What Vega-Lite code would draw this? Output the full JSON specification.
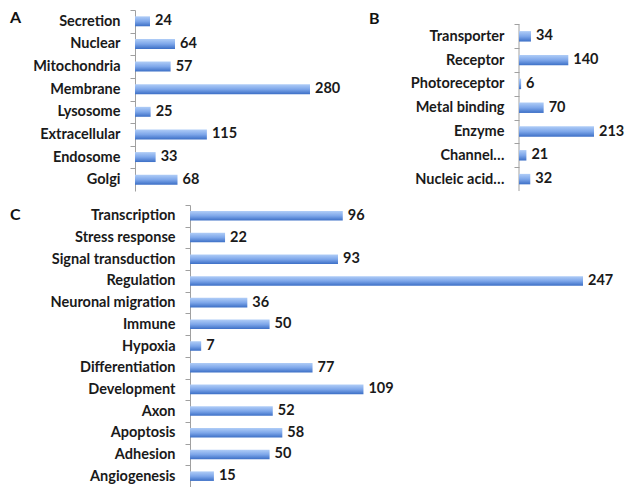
{
  "$schema": "https://vega.github.io/schema/vega-lite/v6.json",
  "padding": {"left": 10, "top": 9, "right": 0, "bottom": 0},
  "background": "white",
  "config": {
    "view": {"stroke": null},
    "font": "Lato",
    "axis": {
      "labelFont": "Lato", "labelFontSize": 14.5, "labelFontWeight": "bold", "labelColor": "#1a1a1a",
      "domain": true, "ticks": true,
      "domainColor": "#a0a0a0", "domainWidth": 1, "tickColor": "#a0a0a0", "tickWidth": 1, "tickSize": 5, "labelPadding": 10,
      "grid": false, "title": null
    },
    "title": {"font": "Lato", "fontSize": 16, "fontWeight": "bold", "color": "#111", "anchor": "start", "frame": "group"},
    "text": {"font": "Lato", "fontSize": 14.5, "fontWeight": "bold", "color": "#1a1a1a", "align": "left", "baseline": "middle", "dx": 5}
  },
  "datasets": {
    "A": [
      {"cat": "Secretion", "n": 24}, {"cat": "Nuclear", "n": 64}, {"cat": "Mitochondria", "n": 57},
      {"cat": "Membrane", "n": 280}, {"cat": "Lysosome", "n": 25}, {"cat": "Extracellular", "n": 115},
      {"cat": "Endosome", "n": 33}, {"cat": "Golgi", "n": 68}
    ],
    "B": [
      {"cat": "Transporter", "n": 34}, {"cat": "Receptor", "n": 140}, {"cat": "Photoreceptor", "n": 6},
      {"cat": "Metal binding", "n": 70}, {"cat": "Enzyme", "n": 213}, {"cat": "Channel…", "n": 21},
      {"cat": "Nucleic acid…", "n": 32}
    ],
    "C": [
      {"cat": "Transcription", "n": 96}, {"cat": "Stress response", "n": 22}, {"cat": "Signal transduction", "n": 93},
      {"cat": "Regulation", "n": 247}, {"cat": "Neuronal migration", "n": 36}, {"cat": "Immune", "n": 50},
      {"cat": "Hypoxia", "n": 7}, {"cat": "Differentiation", "n": 77}, {"cat": "Development", "n": 109},
      {"cat": "Axon", "n": 52}, {"cat": "Apoptosis", "n": 58}, {"cat": "Adhesion", "n": 50},
      {"cat": "Angiogenesis", "n": 15}
    ]
  },
  "vconcat": [
    {
      "hconcat": [
        {
          "data": {"name": "A"},
          "width": 175, "height": 181,
          "title": {"text": "A", "dx": -125, "dy": 20},
          "encoding": {
            "y": {"field": "cat", "type": "nominal", "sort": null,
                  "scale": {"paddingInner": 0.56, "paddingOuter": 0.28},
                  "axis": {"tickOffset": -11.31, "labelOffset": 11.31}},
            "x": {"field": "n", "type": "quantitative", "scale": {"domain": [0, 280], "nice": false}, "axis": null}
          },
          "layer": [
            {"mark": {"type": "bar", "fill": {"gradient": "linear", "x1": 0, "y1": 0, "x2": 0, "y2": 1,
              "stops": [{"offset": 0, "color": "#b0cdf7"}, {"offset": 0.5, "color": "#7ea7ea"}, {"offset": 1, "color": "#3c6fc6"}]}}},
            {"mark": {"type": "text"}, "encoding": {"text": {"field": "n", "type": "quantitative"}}}
          ]
        },
        {
          "data": {"name": "B"},
          "width": 75, "height": 181,
          "title": {"text": "B", "dx": -150, "dy": 21},
          "encoding": {
            "y": {"field": "cat", "type": "nominal", "sort": null,
                  "scale": {"paddingInner": 0.56, "paddingOuter": 0.583, "align": 0.76},
                  "axis": {"domain": false, "tickOffset": -11.9, "labelOffset": 11.9}},
            "x": {"field": "n", "type": "quantitative", "scale": {"domain": [0, 213], "nice": false}, "axis": null}
          },
          "layer": [
            {"mark": {"type": "rule", "color": "#a0a0a0", "strokeWidth": 1},
             "encoding": {
               "x": {"datum": 0},
               "y": {"field": "cat", "type": "nominal", "sort": null, "bandPosition": -0.64},
               "y2": {"field": "cat", "bandPosition": 1.64}
             }},
            {"mark": {"type": "bar", "fill": {"gradient": "linear", "x1": 0, "y1": 0, "x2": 0, "y2": 1,
              "stops": [{"offset": 0, "color": "#b0cdf7"}, {"offset": 0.5, "color": "#7ea7ea"}, {"offset": 1, "color": "#3c6fc6"}]}}},
            {"mark": {"type": "text"}, "encoding": {"text": {"field": "n", "type": "quantitative"}}}
          ]
        }
      ],
      "spacing": 28
    },
    {
      "data": {"name": "C"},
      "width": 448, "height": 282,
      "title": {"text": "C", "dx": -125, "dy": 22},
      "encoding": {
        "y": {"field": "cat", "type": "nominal", "sort": null,
              "scale": {"paddingInner": 0.56, "paddingOuter": 0.28},
              "axis": {"offset": -55, "tickOffset": -10.85, "labelOffset": 10.85}},
        "x": {"field": "n", "type": "quantitative", "scale": {"domain": [-34.6, 247], "nice": false, "zero": false}, "axis": null}
      },
      "layer": [
        {"mark": {"type": "bar", "fill": {"gradient": "linear", "x1": 0, "y1": 0, "x2": 0, "y2": 1,
          "stops": [{"offset": 0, "color": "#b0cdf7"}, {"offset": 0.5, "color": "#7ea7ea"}, {"offset": 1, "color": "#3c6fc6"}]}},
         "encoding": {"x2": {"datum": 0}}},
        {"mark": {"type": "text"}, "encoding": {"text": {"field": "n", "type": "quantitative"}}}
      ]
    }
  ],
  "spacing": 12
}
